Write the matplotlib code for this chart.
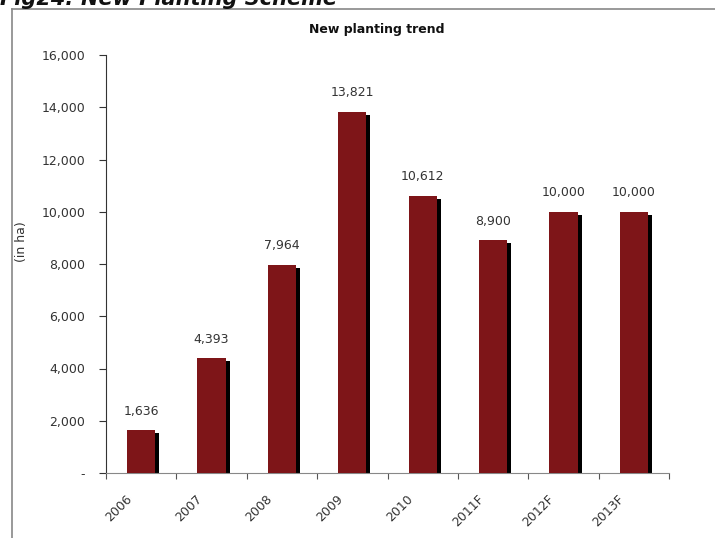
import matplotlib
matplotlib.use("Agg")
import matplotlib.pyplot as plt
from matplotlib.lines import Line2D
from matplotlib.transforms import ScaledTranslation
import numpy as np

categories = ["2006", "2007", "2008", "2009", "2010", "2011F", "2012F", "2013F"]
values = [1636, 4393, 7964, 13821, 10612, 8900, 10000, 10000]
yticks = [0, 2000, 4000, 6000, 8000, 10000, 12000, 14000, 16000]
ytick_labels = ["-", "2,000", "4,000", "6,000", "8,000", "10,000", "12,000", "14,000", "16,000"]

plt.rcParams['font.family'] = ['DejaVu Sans']
W, H = 715, 538
fig = plt.figure(figsize=(W / 100, H / 100), dpi=100)
ax = fig.add_axes([106 / W, 1 - 473 / H, (669 - 106) / W, (473 - 55) / H])

x = np.arange(len(categories)) + 0.5
bw = 0.4
shift = 4 / 70.4
drop = 3 * 16000 / 418
ax.bar(x + shift, [v - drop for v in values], width=bw, color="black", zorder=2)
ax.bar(x, values, width=bw, color="#7E1518", zorder=3)
for xi, v in zip(x, values):
    ax.annotate(f"{v:,}", (xi, v), xytext=(0, 9), textcoords="offset points",
                ha="center", va="bottom", fontsize=9, color="#333333")

ax.set_xlim(0, len(categories))
ax.set_ylim(0, 16000)
ax.set_yticks(yticks)
ax.set_yticklabels(ytick_labels, fontsize=9, color="#333333")
ax.set_xticks(np.arange(len(categories) + 1))
ax.set_xticklabels([])
ax.set_xticks(x, minor=True)
ax.set_xticklabels(categories, minor=True, rotation=45, ha="right", va="top",
                   rotation_mode="anchor", fontsize=9, color="#333333")
ax.tick_params(axis="x", which="minor", length=0, pad=14)
off = ScaledTranslation(-16 / 100, 0, fig.dpi_scale_trans)
for lab in ax.get_xticklabels(minor=True):
    lab.set_transform(lab.get_transform() + off)
ax.tick_params(axis="x", which="major", length=4, color="#555555")
ax.tick_params(axis="y", length=5, color="#333333", pad=10)
for s in ["top", "right"]:
    ax.spines[s].set_visible(False)
ax.spines["left"].set_color("#333333")
ax.spines["bottom"].set_color("#888888")
ax.set_ylabel("(in ha)", fontsize=9, color="#333333")
ax.yaxis.set_label_coords((28 - 106) / (669 - 106), 0.553)

fig.text(377 / W, 1 - 30 / H, "New planting trend", ha="center", va="center",
         fontsize=9, fontweight="bold", color="#111111")
fig.text(0.0, 1 - 5 / H, "Fig24: New Planting Scheme", ha="left", va="baseline",
         fontsize=15, fontweight="bold", fontstyle="italic", color="#111111")

fig.add_artist(Line2D([12 / W, 12 / W], [0, 1 - 9 / H], transform=fig.transFigure,
                      color="#888888", lw=1.2))
fig.add_artist(Line2D([12 / W, 1], [1 - 9 / H, 1 - 9 / H], transform=fig.transFigure,
                      color="#888888", lw=1.2))

fig.savefig("out.png", dpi=100)
